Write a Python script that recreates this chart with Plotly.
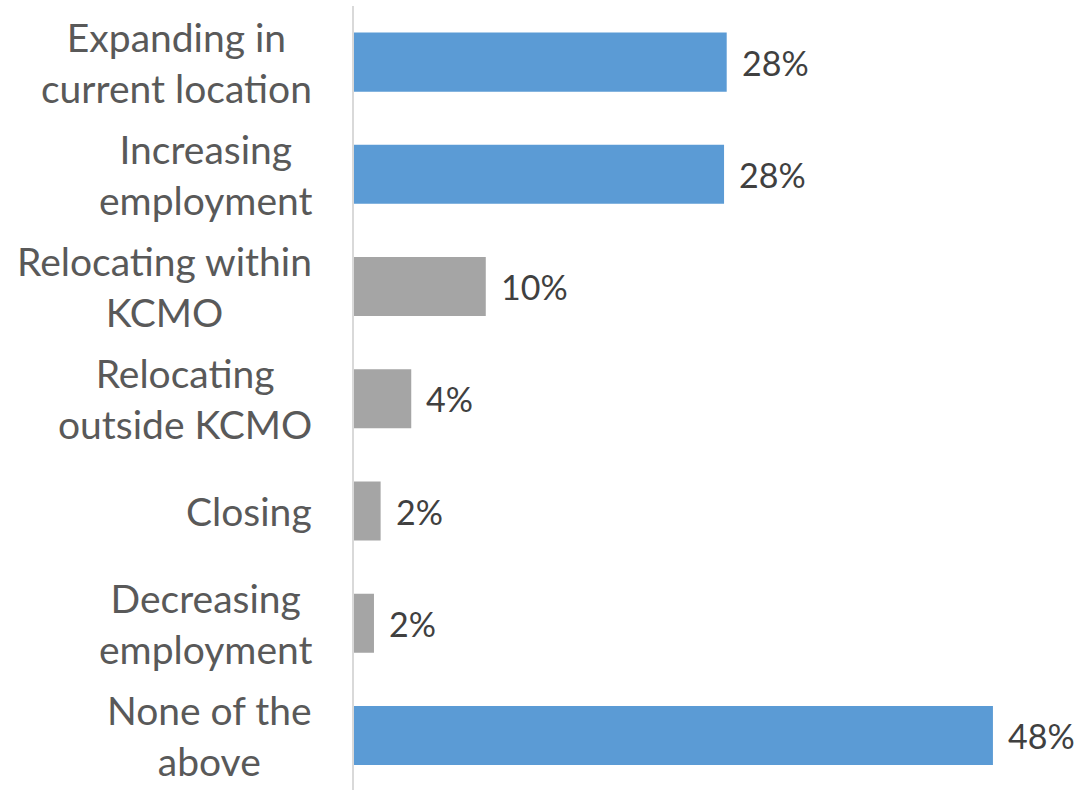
import plotly.graph_objects as go

# ---- data ----
categories = [
    "Expanding in current location",
    "Increasing employment",
    "Relocating within KCMO",
    "Relocating outside KCMO",
    "Closing",
    "Decreasing employment",
    "None of the above",
]
category_lines = [
    ["Expanding in", "current location"],
    ["Increasing", "employment"],
    ["Relocating within", "KCMO"],
    ["Relocating", "outside KCMO"],
    ["Closing"],
    ["Decreasing", "employment"],
    ["None of the", "above"],
]
values = [28.0, 27.8, 9.9, 4.3, 2.0, 1.5, 48.0]
value_labels = ["28%", "28%", "10%", "4%", "2%", "2%", "48%"]
highlighted = [True, True, False, False, False, False, True]

# ---- style ----
BLUE = "#5B9BD5"
GRAY = "#A5A5A5"
FONT = "Lato"
CAT_COLOR = "#595959"
VAL_COLOR = "#404040"
CAT_SIZE = 39
VAL_SIZE = 34

bar_colors = [BLUE if h else GRAY for h in highlighted]

fig = go.Figure(
    go.Bar(
        x=values,
        y=categories,
        orientation="h",
        marker=dict(color=bar_colors, line=dict(width=0)),
        hoverinfo="skip",
    )
)

annotations = []
for cat, lines in zip(categories, category_lines):
    annotations.append(
        dict(
            xref="paper", x=0, xanchor="right", xshift=-40,
            yref="y", y=cat, yanchor="middle",
            text="<br>".join(lines), align="center", showarrow=False,
            font=dict(family=FONT, size=CAT_SIZE, color=CAT_COLOR),
        )
    )
for cat, v, lab in zip(categories, values, value_labels):
    annotations.append(
        dict(
            xref="x", x=v, xanchor="left", xshift=13,
            yref="y", y=cat, yanchor="middle",
            text=lab, showarrow=False,
            font=dict(family=FONT, size=VAL_SIZE, color=VAL_COLOR),
        )
    )

fig.update_layout(
    width=1076, height=790,
    margin=dict(l=354, r=0, t=6, b=0),
    paper_bgcolor="white", plot_bgcolor="white",
    bargap=0.474,
    showlegend=False,
    annotations=annotations,
    font=dict(family=FONT, size=CAT_SIZE, color=CAT_COLOR),
)
fig.update_xaxes(range=[0, 54.24], visible=False, showgrid=False, zeroline=False)
fig.update_yaxes(
    categoryorder="array", categoryarray=categories,
    range=[6.486, -0.5],
    showticklabels=False, ticks="", showgrid=False, zeroline=False,
    showline=True, linecolor="#D9D9D9", linewidth=1.5,
)

fig.write_html(
    "out.html",
    config={"displayModeBar": False},
    post_script="document.body.style.margin='0';document.body.style.overflow='hidden';",
)
